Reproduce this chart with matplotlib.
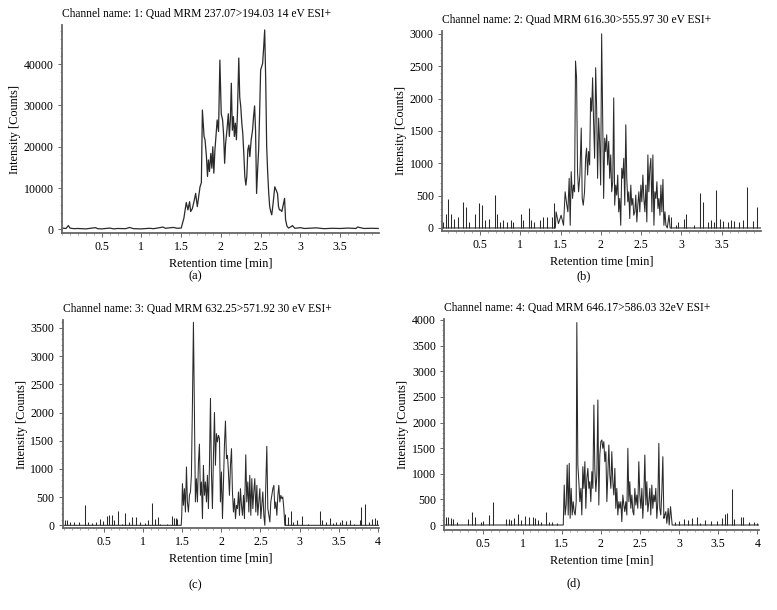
import numpy as np
import matplotlib
matplotlib.use("Agg")
from matplotlib import pyplot as plt
from matplotlib.ticker import MultipleLocator, AutoMinorLocator

plt.rcParams['font.family'] = ['Liberation Serif', 'DejaVu Serif']

# ---- data (time [min], intensity [counts]) ----
a_trace = [
    (0.00, 300), (0.05, 200), (0.08, 900), (0.10, 300), (0.15, 150), (0.20, 200),
    (0.30, 100), (0.42, 400), (0.45, 150), (0.50, 100), (0.60, 300), (0.65, 100),
    (0.70, 200), (0.80, 150), (0.85, 450), (0.90, 150), (1.00, 100), (1.10, 250),
    (1.15, 150), (1.20, 300), (1.27, 550), (1.30, 250), (1.35, 350), (1.40, 450),
    (1.45, 250), (1.50, 300),
    (1.534, 2700), (1.564, 6500), (1.585, 4700), (1.606, 6700), (1.619, 4300),
    (1.640, 5000), (1.661, 6700), (1.682, 8700), (1.703, 5500), (1.725, 8700),
    (1.737, 10300), (1.754, 11300), (1.767, 28900), (1.788, 22500), (1.800, 21700),
    (1.818, 17600), (1.831, 12800), (1.843, 16800), (1.856, 14000), (1.873, 18400),
    (1.886, 14800), (1.898, 20000), (1.911, 13600), (1.924, 19000), (1.941, 23300),
    (1.953, 26500), (1.970, 23700), (1.987, 41000), (2.004, 28000), (2.021, 26500),
    (2.034, 22900), (2.047, 16000), (2.059, 20800), (2.076, 24000), (2.093, 28000),
    (2.106, 22500), (2.119, 26500), (2.131, 35400), (2.144, 24000), (2.157, 27300),
    (2.169, 22500), (2.182, 25700), (2.195, 21700), (2.208, 28000), (2.225, 41500),
    (2.237, 32000), (2.250, 29700), (2.263, 25700), (2.275, 23300), (2.288, 18400),
    (2.301, 12800), (2.314, 10700), (2.326, 12800), (2.339, 19300), (2.352, 20400),
    (2.364, 17600), (2.381, 21700), (2.398, 24000), (2.411, 27300), (2.424, 29900),
    (2.436, 24000), (2.449, 8700), (2.462, 14400), (2.475, 19300), (2.487, 28000),
    (2.500, 38600), (2.513, 39400), (2.525, 40200), (2.538, 44000), (2.551, 48300),
    (2.564, 36000), (2.576, 20000), (2.589, 13600), (2.602, 8700), (2.614, 5500),
    (2.627, 4300), (2.640, 3500), (2.657, 6300), (2.678, 10300), (2.695, 9500),
    (2.712, 8700), (2.725, 5500), (2.737, 4700), (2.750, 4700), (2.767, 4300),
    (2.784, 5900), (2.801, 7500), (2.814, 2300), (2.831, 800),
    (2.85, 300), (2.88, 600), (2.90, 900), (2.93, 250), (3.00, 400), (3.05, 200),
    (3.10, 250), (3.20, 350), (3.30, 150), (3.40, 250), (3.50, 200), (3.60, 300),
    (3.70, 200), (3.72, 550), (3.80, 200), (3.90, 250), (3.98, 200),
]

b_trace = [
    (0.03, 0), (1.435, 0),
    (1.445, 249), (1.474, 67), (1.507, 197), (1.537, 41), (1.557, 559), (1.578, 352),
    (1.591, 249), (1.607, 767), (1.620, 41), (1.632, 870), (1.649, 456), (1.661, 663),
    (1.674, 559), (1.686, 2580), (1.699, 2321), (1.711, 870), (1.724, 559), (1.740, 818),
    (1.757, 1544), (1.769, 456), (1.782, 352), (1.798, 559), (1.811, 1077), (1.823, 1233),
    (1.836, 818), (1.848, 1181), (1.861, 974), (1.873, 2010), (1.886, 1803), (1.898, 2321),
    (1.911, 1595), (1.923, 1077), (1.936, 2476), (1.948, 1854), (1.960, 767), (1.973, 1699),
    (1.985, 1336), (1.998, 663), (2.010, 3000), (2.023, 1699), (2.035, 456), (2.048, 1388),
    (2.060, 1181), (2.073, 1440), (2.085, 974), (2.098, 1336), (2.110, 767), (2.123, 1129),
    (2.135, 559), (2.148, 715), (2.160, 2010), (2.172, 352), (2.185, 663), (2.197, 508),
    (2.210, 818), (2.222, 249), (2.235, 456), (2.247, 41), (2.260, 922), (2.272, 767),
    (2.285, 1077), (2.297, 352), (2.310, 1595), (2.322, 767), (2.335, 404), (2.347, 559),
    (2.359, 145), (2.372, 663), (2.384, 352), (2.397, 456), (2.409, 197), (2.422, 249),
    (2.434, 508), (2.447, 93), (2.459, 352), (2.472, 559), (2.484, 249), (2.497, 663),
    (2.509, 404), (2.522, 818), (2.534, 456), (2.547, 249), (2.559, 663), (2.571, 93),
    (2.584, 1129), (2.596, 559), (2.609, 922), (2.621, 1077), (2.634, 249), (2.646, 1129),
    (2.659, 41), (2.671, 559), (2.684, 456), (2.696, 715), (2.709, 300), (2.721, 456),
    (2.734, 197), (2.746, 663), (2.758, 249), (2.771, 750), (2.783, 41), (2.796, 249),
    (2.808, 41), (2.825, 0), (2.846, 197), (2.860, 0), (3.99, 0),
]
b_spike_t = [0.042, 0.075, 0.108, 0.145, 0.183, 0.233, 0.291, 0.324, 0.366, 0.432,
             0.490, 0.524, 0.565, 0.615, 0.686, 0.715, 0.748, 0.790, 0.831, 0.881,
             0.914, 1.006, 1.039, 1.114, 1.139, 1.172, 1.239, 1.288, 1.338, 1.388,
             1.420, 2.868, 2.929, 2.962, 3.033, 3.055, 3.159, 3.234, 3.267, 3.325,
             3.367, 3.400, 3.433, 3.475, 3.516, 3.574, 3.616, 3.657, 3.720, 3.766,
             3.810, 3.886, 3.935]
b_spike_h = [94, 223, 440, 223, 146, 171, 405, 327, 94, 223,
             379, 353, 120, 146, 508, 223, 94, 120, 94, 120,
             94, 223, 120, 316, 120, 94, 120, 171, 171, 171,
             380, 171, 41, 93, 145, 223, 42, 540, 400, 94,
             120, 94, 580, 140, 110, 90, 130, 100, 90, 120,
             630, 110, 330]

c_trace = [
    (-0.02, 0), (1.490, 0),
    (1.497, 177), (1.506, 739), (1.518, 355), (1.531, 650), (1.544, 236), (1.557, 1034),
    (1.569, 414), (1.582, 236), (1.595, 532), (1.608, 591), (1.620, 887), (1.633, 2128),
    (1.646, 3600), (1.659, 1950), (1.671, 414), (1.684, 827), (1.697, 414), (1.710, 1123),
    (1.722, 1440), (1.735, 532), (1.748, 768), (1.761, 118), (1.773, 1064), (1.786, 532),
    (1.799, 768), (1.812, 414), (1.824, 887), (1.837, 296), (1.850, 1064), (1.863, 2250),
    (1.875, 946), (1.888, 296), (1.901, 1241), (1.914, 2000), (1.926, 1064), (1.939, 1625),
    (1.952, 1478), (1.965, 1596), (1.978, 1537), (1.990, 414), (2.003, 946), (2.016, 118),
    (2.029, 768), (2.041, 1418), (2.054, 1850), (2.067, 1182), (2.080, 1241), (2.092, 946),
    (2.105, 532), (2.118, 1064), (2.131, 1359), (2.143, 591), (2.156, 236), (2.169, 473),
    (2.182, 118), (2.194, 355), (2.207, 296), (2.220, 591), (2.233, 177), (2.245, 650),
    (2.258, 355), (2.271, 177), (2.284, 532), (2.296, 118), (2.313, 1250), (2.326, 414),
    (2.339, 768), (2.352, 236), (2.364, 887), (2.377, 177), (2.390, 827), (2.403, 296),
    (2.415, 591), (2.428, 827), (2.441, 236), (2.454, 709), (2.466, 177), (2.479, 414),
    (2.492, 650), (2.505, 118), (2.517, 355), (2.530, 591), (2.543, 177), (2.556, 0),
    (2.569, 768), (2.581, 1400), (2.594, 296), (2.607, 177), (2.620, 59), (2.632, 414),
    (2.645, 532), (2.658, 650), (2.671, 709), (2.683, 296), (2.696, 414), (2.709, 177),
    (2.722, 532), (2.734, 709), (2.747, 414), (2.760, 532), (2.773, 473), (2.785, 502),
    (2.798, 296), (2.811, 0), (4.01, 0),
]
c_spike_t = [0.005, 0.039, 0.073, 0.124, 0.192, 0.268, 0.306, 0.349, 0.404, 0.455,
             0.498, 0.540, 0.574, 0.608, 0.634, 0.685, 0.732, 0.778, 0.821, 0.863,
             0.914, 0.966, 1.025, 1.067, 1.118, 1.153, 1.190, 1.221, 1.306, 1.370,
             1.399, 1.425, 1.433, 2.819, 2.853, 2.887, 2.921, 2.972, 3.030, 3.112,
             3.253, 3.287, 3.338, 3.381, 3.423, 3.466, 3.508, 3.542, 3.585, 3.636,
             3.687, 3.772, 3.785, 3.830, 3.883, 3.925, 3.959, 3.985]
c_spike_h = [89, 100, 59, 59, 59, 355, 59, 41, 59, 118,
             77, 160, 177, 177, 89, 260, 30, 220, 59, 150,
             150, 59, 41, 89, 390, 118, 150, 30, 18, 170,
             136, 136, 118, 207, 148, 250, 59, 100, 170, 18,
             260, 89, 59, 136, 41, 59, 59, 89, 77, 89,
             30, 89, 330, 370, 59, 118, 136, 89]

d_trace = [
    (0.00, 0), (1.520, 0),
    (1.532, 780), (1.544, 195), (1.557, 390), (1.570, 1171), (1.583, 195), (1.596, 1203),
    (1.608, 130), (1.621, 715), (1.634, 195), (1.647, 455), (1.659, 260), (1.672, 195),
    (1.685, 455), (1.693, 3950), (1.706, 1171), (1.719, 845), (1.732, 455), (1.745, 715),
    (1.757, 195), (1.770, 1138), (1.783, 715), (1.796, 1236), (1.808, 325), (1.821, 911),
    (1.834, 1106), (1.847, 715), (1.859, 845), (1.872, 455), (1.885, 1041), (1.898, 715),
    (1.911, 2341), (1.923, 1106), (1.936, 650), (1.949, 976), (1.962, 2439), (1.974, 390),
    (1.987, 1366), (2.000, 1626), (2.013, 1659), (2.025, 1496), (2.038, 1626), (2.051, 1236),
    (2.064, 1431), (2.077, 455), (2.089, 976), (2.102, 1561), (2.115, 976), (2.128, 715),
    (2.140, 1431), (2.153, 845), (2.166, 585), (2.179, 1106), (2.191, 325), (2.204, 715),
    (2.217, 195), (2.230, 455), (2.243, 325), (2.255, 455), (2.268, 65), (2.281, 585),
    (2.294, 390), (2.306, 260), (2.319, 455), (2.332, 195), (2.345, 1496), (2.358, 455),
    (2.370, 845), (2.383, 325), (2.396, 585), (2.409, 260), (2.421, 195), (2.434, 715),
    (2.447, 390), (2.460, 585), (2.472, 325), (2.485, 1236), (2.498, 585), (2.511, 325),
    (2.524, 715), (2.536, 130), (2.549, 585), (2.562, 1366), (2.575, 390), (2.587, 845),
    (2.600, 260), (2.613, 455), (2.626, 715), (2.638, 195), (2.651, 780), (2.664, 325),
    (2.677, 585), (2.690, 455), (2.702, 715), (2.715, 130), (2.728, 455), (2.741, 1593),
    (2.753, 325), (2.766, 195), (2.779, 650), (2.792, 1333), (2.805, 130), (2.817, 195),
    (2.830, 260), (2.843, 33), (2.860, 325), (2.873, 0), (2.890, 358), (2.911, 0),
    (4.02, 0),
]
d_spike_t = [0.020, 0.050, 0.080, 0.114, 0.165, 0.301, 0.352, 0.386, 0.463, 0.497,
             0.565, 0.620, 0.787, 0.821, 0.855, 0.889, 0.948, 0.974, 1.034, 1.085,
             1.127, 1.161, 1.195, 1.230, 1.298, 1.332, 1.374, 1.434, 2.950, 3.001,
             3.061, 3.111, 3.162, 3.230, 3.273, 3.332, 3.401, 3.478, 3.554, 3.588,
             3.614, 3.673, 3.707, 3.792, 3.818, 3.895, 3.955, 3.990]
d_spike_h = [150, 150, 130, 110, 65, 110, 260, 163, 65, 85,
             195, 455, 110, 110, 98, 130, 215, 98, 175, 150,
             163, 130, 98, 65, 260, 65, 65, 33, 65, 85,
             110, 98, 130, 150, 46, 98, 85, 85, 130, 215,
             228, 700, 110, 150, 150, 65, 59, 46]

titles = [
    "Channel name: 1: Quad MRM 237.07>194.03 14 eV ESI+",
    "Channel name: 2: Quad MRM 616.30>555.97 30 eV ESI+",
    "Channel name: 3: Quad MRM 632.25>571.92 30 eV ESI+",
    "Channel name: 4: Quad MRM 646.17>586.03 32eV ESI+",
]
panel_labels = ["(a)", "(b)", "(c)", "(d)"]
x_ticks_short = [0.5, 1, 1.5, 2, 2.5, 3, 3.5]
x_ticks_long = [0.5, 1, 1.5, 2, 2.5, 3, 3.5, 4]
y_ticks_a = [0, 10000, 20000, 30000, 40000]
y_ticks_b = [0, 500, 1000, 1500, 2000, 2500, 3000]
y_ticks_c = [0, 500, 1000, 1500, 2000, 2500, 3000, 3500]
y_ticks_d = [0, 500, 1000, 1500, 2000, 2500, 3000, 3500, 4000]


def fmt(v):
    return ("%g" % v)


fig = plt.figure(figsize=(7.77, 6.10), dpi=100)

panels = [
    # rect, trace, spikes, xlim, ylim, xticks, yticks, label pos
    ([0.0798, 0.618, 0.408, 0.341], a_trace, None, (0.0, 3.99), (-900, 49500),
     x_ticks_short, y_ticks_a, (0.251, 0.547)),
    ([0.569, 0.6213, 0.4106, 0.328], b_trace, (b_spike_t, b_spike_h), (0.03, 3.99), (-47, 3045),
     x_ticks_short, y_ticks_b, (0.751, 0.547)),
    ([0.0807, 0.1344, 0.407, 0.341], c_trace, (c_spike_t, c_spike_h), (-0.02, 4.01), (-48, 3640),
     x_ticks_long, y_ticks_c, (0.251, 0.041)),
    ([0.5718, 0.1311, 0.405, 0.346], d_trace, (d_spike_t, d_spike_h), (0.0, 4.02), (-98, 4020),
     x_ticks_long, y_ticks_d, (0.738, 0.043)),
]

line_col = '#2a2a2a'
for i, (rect, trace, spikes, xlim, ylim, xt, yt, lab) in enumerate(panels):
    ax = fig.add_axes(rect)
    t, y = np.array(trace, dtype=float).T
    ax.plot(t, y, color=line_col, lw=0.9 if i == 0 else 0.75)
    if spikes is not None:
        ax.vlines(spikes[0], 0, spikes[1], color=line_col, lw=0.75)
    ax.set_xlim(*xlim)
    ax.set_ylim(*ylim)
    ax.set_xticks(xt, [fmt(v) for v in xt])
    ax.set_yticks(yt, [fmt(v) for v in yt])
    ax.xaxis.set_minor_locator(MultipleLocator(0.1))
    ax.yaxis.set_minor_locator(AutoMinorLocator(5))
    for s in ['top', 'right']:
        ax.spines[s].set_visible(False)
    for s in ['left', 'bottom']:
        ax.spines[s].set_color('#666666')
        ax.spines[s].set_linewidth(1.3)
    ax.tick_params(which='major', direction='out', length=3, width=0.7,
                   color='#666666', labelsize=8.6, pad=3)
    ax.tick_params(which='minor', direction='out', length=1.5, width=0.5,
                   color='#888888')
    ax.set_xlabel("Retention time [min]", fontsize=8.8, labelpad=3)
    ax.set_ylabel("Intensity [Counts]", fontsize=8.8, labelpad=2)
    ax.set_title(titles[i], loc='left', fontsize=8.3, pad=6)
    fig.text(lab[0], lab[1], panel_labels[i], ha='center', va='center', fontsize=9)

fig.savefig("out.png", dpi=100)
